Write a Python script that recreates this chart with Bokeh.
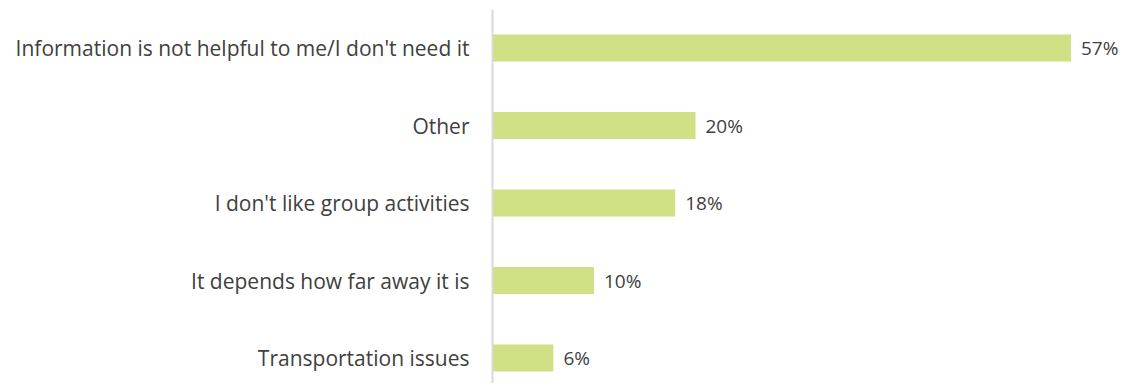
from bokeh.plotting import figure
from bokeh.models import ColumnDataSource, Range1d, FixedTicker, LabelSet
from bokeh.core.properties import value
from bokeh.embed import file_html
from bokeh.resources import INLINE

categories = ["Information is not helpful to me/I don't need it", "Other",
              "I don't like group activities", "It depends how far away it is",
              "Transportation issues"]
values = [57, 20, 18, 10, 6]
labels = ["57%", "20%", "18%", "10%", "6%"]

ypos = list(range(len(categories)))
src = ColumnDataSource(dict(y=ypos, v=values, lab=labels))

p = figure(width=1124, height=383, output_backend="svg", toolbar_location=None,
           x_range=Range1d(0, 62.27), y_range=Range1d(4.329, -0.497),
           min_border_left=492, min_border_right=0, min_border_top=9, min_border_bottom=0)
p.hbar(y="y", right="v", left=0, height=0.35, source=src, color="#d0e084", line_color=None)
p.add_layout(LabelSet(x="v", y="y", text="lab", source=src, x_offset=10, y_offset=0,
                      text_baseline="middle", text_font=value("Open Sans"),
                      text_font_size="19px", text_color="#404040"))

p.xaxis.visible = False
p.xgrid.visible = False
p.ygrid.visible = False
p.outline_line_color = None
yax = p.yaxis[0]
yax.ticker = FixedTicker(ticks=ypos)
yax.major_label_overrides = {i: c for i, c in enumerate(categories)}
yax.major_tick_line_color = None
yax.minor_tick_line_color = None
yax.axis_line_color = "#d9d9d9"
yax.axis_line_width = 2
yax.major_label_standoff = 17
yax.major_label_text_font = "Open Sans"
yax.major_label_text_font_size = "21px"
yax.major_label_text_color = "#404040"

open("out.html", "w").write(file_html(p, INLINE))
